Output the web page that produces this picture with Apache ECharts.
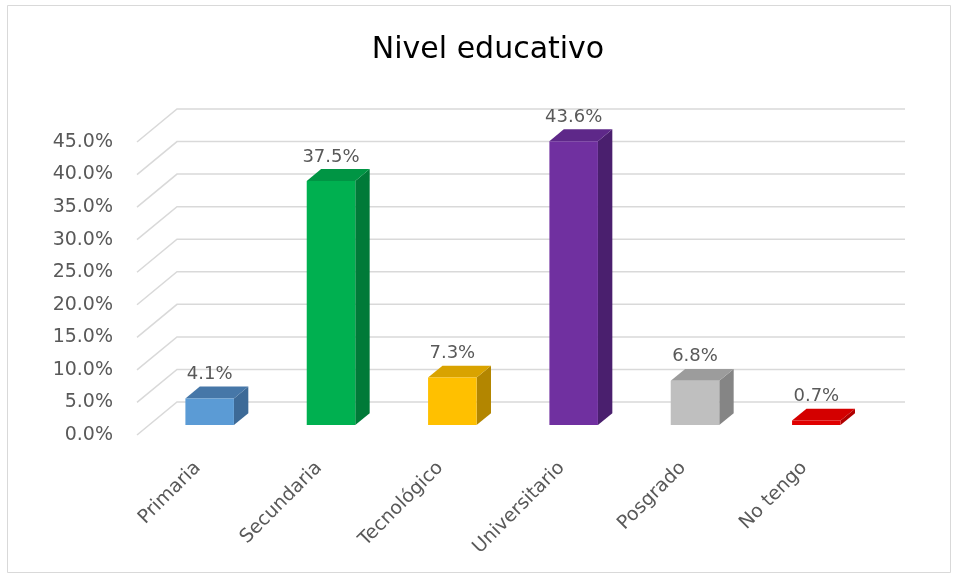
<!DOCTYPE html>
<html>
<head>
<meta charset="utf-8">
<title>Nivel educativo</title>
<script src="https://cdn.jsdelivr.net/npm/echarts@6/dist/echarts.min.js"></script>
<style>
  html, body { margin: 0; padding: 0; background: #ffffff; }
  #chart { width: 955px; height: 577px; }
</style>
</head>
<body>
<div id="chart"></div>
<script>
// Education level shares (percent)
const categories = ['Primaria', 'Secundaria', 'Tecnológico', 'Universitario', 'Posgrado', 'No tengo'];
const values = [4.1, 37.5, 7.3, 43.6, 6.8, 0.7];
const tickValues = [0, 5, 10, 15, 20, 25, 30, 35, 40, 45];

// Face colours per column: front, top, side
const frontColors = ['#5B9BD5', '#00B050', '#FFC000', '#7030A0', '#BFBFBF', '#E00000'];
const topColors   = ['#4677A8', '#009544', '#D9A300', '#5E2889', '#9C9C9C', '#D40000'];
const sideColors  = ['#3D6A97', '#007A38', '#B38600', '#4A1F6E', '#858585', '#B00000'];

// Oblique projection of the floor depth
const DEPTH_X = 40;
const DEPTH_Y = 33;
const BAR_FRONT = 0.30;   // column front plane, as a fraction of floor depth
const BAR_BACK = 0.66;    // column back plane
const BAR_WIDTH_RATIO = 0.40;

const textColor = '#595959';
const font = 'DejaVu Sans';

const chart = echarts.init(document.getElementById('chart'));

function renderGrid(params, api) {
  const cs = params.coordSys;
  const y = api.coord([0, api.value(0)])[1];
  const xl = cs.x;
  const xr = cs.x + cs.width;
  return {
    type: 'polyline',
    shape: { points: [[xl, y], [xl + DEPTH_X, y - DEPTH_Y], [xr + DEPTH_X, y - DEPTH_Y]] },
    style: { stroke: '#D9D9D9', lineWidth: 1.5, fill: null },
    silent: true
  };
}

function renderBar(params, api) {
  const idx = api.value(0);
  const v = api.value(1);
  const base = api.coord([idx, 0]);
  const top = api.coord([idx, v]);
  const w = api.size([1, 0])[0] * BAR_WIDTH_RATIO;
  const fx = DEPTH_X * BAR_FRONT, fy = DEPTH_Y * BAR_FRONT;
  const dx = DEPTH_X * (BAR_BACK - BAR_FRONT), dy = DEPTH_Y * (BAR_BACK - BAR_FRONT);
  const cx = base[0] + fx;
  const x0 = cx - w / 2, x1 = cx + w / 2;
  const yb = base[1] - fy;
  const yt = top[1] - fy;
  const i = params.dataIndex;
  return {
    type: 'group',
    children: [
      {
        type: 'polygon',
        shape: { points: [[x1, yb], [x1 + dx, yb - dy], [x1 + dx, yt - dy], [x1, yt]] },
        style: { fill: sideColors[i] }
      },
      {
        type: 'polygon',
        shape: { points: [[x0, yt], [x0 + dx, yt - dy], [x1 + dx, yt - dy], [x1, yt]] },
        style: { fill: topColors[i] }
      },
      {
        type: 'rect',
        shape: { x: x0, y: yt, width: w, height: yb - yt },
        style: { fill: frontColors[i] }
      },
      {
        type: 'text',
        x: cx,
        y: yt - 24,
        style: {
          text: v.toFixed(1) + '%',
          align: 'center',
          verticalAlign: 'middle',
          fill: textColor,
          font: '18px "' + font + '"'
        }
      }
    ]
  };
}

chart.setOption({
  animation: false,
  backgroundColor: '#ffffff',
  title: {
    text: 'Nivel educativo',
    left: 483,
    top: 30,
    textAlign: 'center',
    textStyle: { fontFamily: font, fontSize: 30, fontWeight: 'normal', color: '#000000' }
  },
  graphic: [
    {
      type: 'rect',
      shape: { x: 7.5, y: 5.5, width: 943, height: 567 },
      style: { fill: null, stroke: '#D9D9D9', lineWidth: 1 },
      silent: true,
      z: -10
    }
  ],
  grid: { left: 137, right: 90, top: 142, bottom: 142, containLabel: false },
  xAxis: {
    type: 'category',
    data: categories,
    axisLine: { show: false },
    axisTick: { show: false },
    splitLine: { show: false },
    axisLabel: {
      rotate: 45,
      margin: 30,
      interval: 0,
      color: textColor,
      fontFamily: font,
      fontSize: 19
    }
  },
  yAxis: {
    type: 'value',
    min: 0,
    max: 45,
    interval: 5,
    axisLine: { show: false },
    axisTick: { show: false },
    splitLine: { show: false },
    axisLabel: {
      margin: 24,
      color: textColor,
      fontFamily: font,
      fontSize: 19,
      formatter: function (v) { return v.toFixed(1) + '%'; }
    }
  },
  series: [
    {
      type: 'custom',
      name: 'grid',
      renderItem: renderGrid,
      data: tickValues.map(function (t) { return [t]; }),
      encode: { y: 0 },
      z: 1,
      silent: true
    },
    {
      type: 'custom',
      name: 'Nivel educativo',
      renderItem: renderBar,
      data: values.map(function (v, i) { return [i, v]; }),
      encode: { x: 0, y: 1 },
      z: 2
    }
  ]
});
</script>
</body>
</html>
